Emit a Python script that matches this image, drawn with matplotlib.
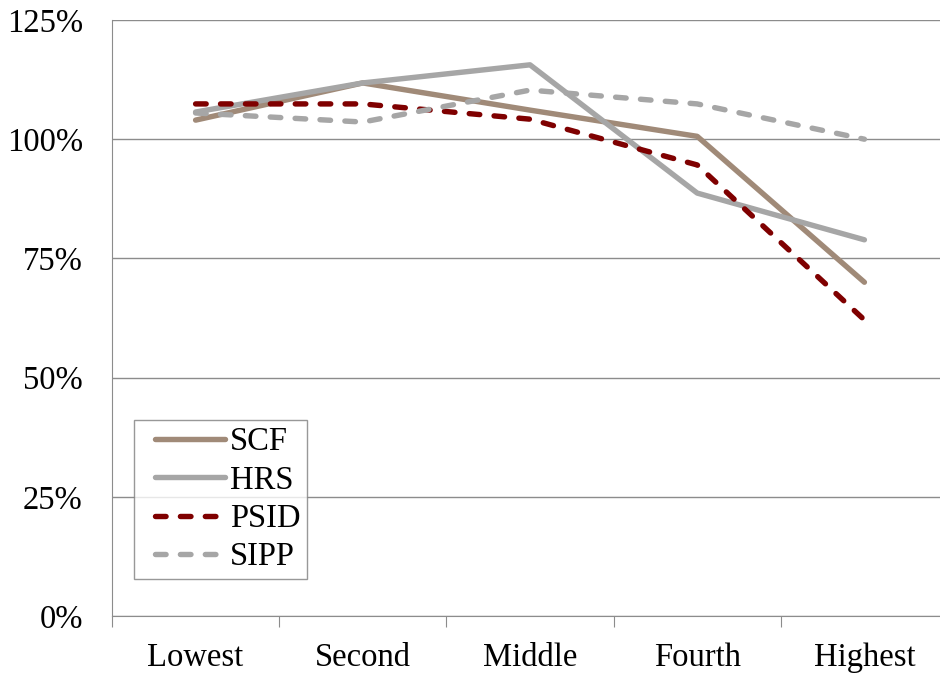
import numpy as np
import matplotlib.pyplot as plt
from matplotlib.ticker import FuncFormatter
from matplotlib.legend_handler import HandlerLine2D

categories = ['Lowest', 'Second', 'Middle', 'Fourth', 'Highest']
scf = [104.0, 111.8, 106.1, 100.6, 70.0]
hrs = [105.7, 111.8, 115.6, 88.7, 78.9]
psid = [107.4, 107.4, 104.2, 94.6, 62.1]
sipp = [105.5, 103.6, 110.3, 107.4, 100.0]

plt.rcParams['font.family'] = ['Liberation Serif', 'DejaVu Serif']
plt.rcParams['font.size'] = 23.5

fig = plt.figure(figsize=(9.4, 6.75), dpi=100)
ax = fig.add_axes([112 / 940, 59 / 675, 836 / 940, 596 / 675])

x = np.arange(len(categories))
dash = (0, (1.95, 2.65))
ax.plot(x, scf, color='#A08A78', lw=3.9, label='SCF', solid_capstyle='round')
ax.plot(x, hrs, color='#A6A6A6', lw=3.9, label='HRS', solid_capstyle='round')
ax.plot(x, psid, color='#7F0000', lw=3.9, ls=dash, label='PSID',
        dash_capstyle='round')
ax.plot(x, sipp, color='#A6A6A6', lw=3.9, ls=dash, label='SIPP',
        dash_capstyle='round')

ax.set_xlim(-0.5, len(categories) - 0.5)
ax.set_ylim(0, 125)
ax.set_yticks(np.arange(0, 126, 25))
ax.yaxis.set_major_formatter(FuncFormatter(lambda v, p: '%d%%' % v))
ax.grid(axis='y', color='#8C8C8C', lw=1)
ax.set_axisbelow(True)

ax.set_xticks(np.arange(-0.5, len(categories), 1))
ax.set_xticklabels([])
ax.set_xticks(x, minor=True)
ax.set_xticklabels(categories, minor=True)
ax.tick_params(axis='x', which='major', length=8, color='#8C8C8C', direction='out')
ax.tick_params(axis='x', which='minor', length=0, pad=19)
ax.tick_params(axis='y', length=0, pad=21)

for s in ['top', 'right']:
    ax.spines[s].set_visible(False)
ax.spines['left'].set_color('#8C8C8C')
ax.spines['bottom'].set_color('#8C8C8C')

leg = ax.legend(loc='lower left', bbox_to_anchor=(22 / 836, 37 / 596),
                fancybox=False, edgecolor='#7F7F7F', handlelength=2.6,
                handletextpad=0.15, borderpad=0.2, labelspacing=0.24,
                borderaxespad=0, handler_map={plt.Line2D: HandlerLine2D(xpad=0.45)})
leg.get_frame().set_linewidth(1)

fig.savefig('out.png', dpi=100)
